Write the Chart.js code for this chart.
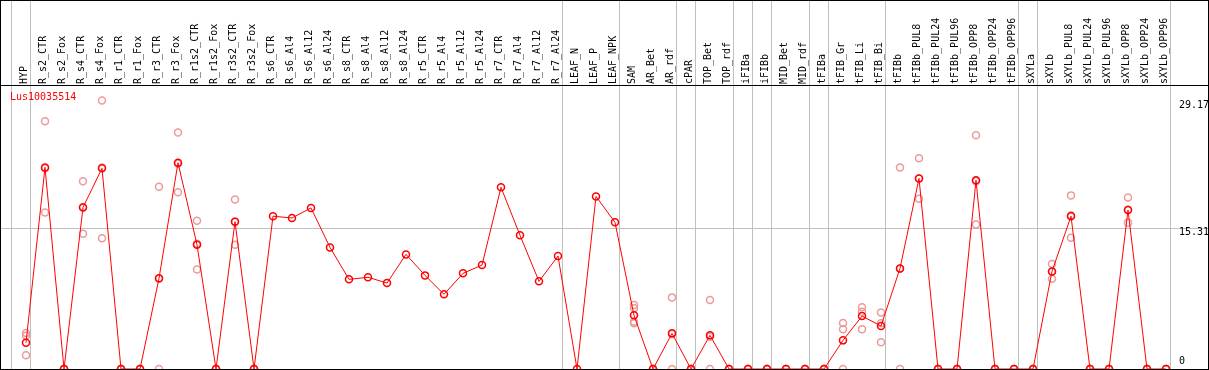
<!DOCTYPE html>
<html><head><meta charset="utf-8">
<script src="https://cdn.jsdelivr.net/npm/chart.js@4.4.1/dist/chart.umd.min.js"></script>
<style>
html,body{margin:0;padding:0;background:#fff;}
#wrap{position:absolute;left:0;top:0;width:1207px;height:368px;border:1px solid #000;background:#fff;}
</style></head><body>
<div id="wrap"><canvas id="c"></canvas></div>
<script>
const geneName = 'Lus10035514';
const categories = ['HYP','R_s2_CTR','R_s2_Fox','R_s4_CTR','R_s4_Fox','R_r1_CTR','R_r1_Fox','R_r3_CTR','R_r3_Fox','R_r1s2_CTR','R_r1s2_Fox','R_r3s2_CTR','R_r3s2_Fox','R_s6_CTR','R_s6_Al4','R_s6_Al12','R_s6_Al24','R_s8_CTR','R_s8_Al4','R_s8_Al12','R_s8_Al24','R_r5_CTR','R_r5_Al4','R_r5_Al12','R_r5_Al24','R_r7_CTR','R_r7_Al4','R_r7_Al12','R_r7_Al24','LEAF_N','LEAF_P','LEAF_NPK','SAM','AR_Bet','AR_rdf','cPAR','TOP_Bet','TOP_rdf','iFIBa','iFIBb','MID_Bet','MID_rdf','tFIBa','tFIB_Gr','tFIB_Li','tFIB_Bi','tFIBb','tFIBb_PUL8','tFIBb_PUL24','tFIBb_PUL96','tFIBb_OPP8','tFIBb_OPP24','tFIBb_OPP96','sXYLa','sXYLb','sXYLb_PUL8','sXYLb_PUL24','sXYLb_PUL96','sXYLb_OPP8','sXYLb_OPP24','sXYLb_OPP96'];
const meanValues = [2.86,21.9,0,17.55,21.8,0,0,9.85,22.4,13.5,0,16.0,0,16.6,16.4,17.5,13.2,9.74,9.96,9.34,12.45,10.17,8.11,10.39,11.29,19.73,14.52,9.52,12.27,0,18.75,15.93,5.83,0,3.87,0,3.66,0,0,0,0,0,0,3.11,5.75,4.67,10.93,20.7,0,0,20.5,0,0,0,10.6,16.6,0,0,17.27,0,0];
const replicateValues = [
  [3.9,3.6,1.5],[26.9,21.8,17.0],[0,0,0],[20.4,17.6,14.7],[29.17,21.9,14.2],[0,0,0],[0,0,0],[19.8,9.8,0],[25.7,22.3,19.2],[16.1,13.6,10.8],[0,0,0],[18.4,16.0,13.5],[0,0,0],
  [],[],[],[],[],[],[],[],[],[],[],[],[],[],[],[],
  [],[],[],
  [6.95,6.59,5.14,4.96],[0,0,0],[7.78,3.8,0],[0,0,0],[7.49,3.5,0],[0,0,0],[0,0,0],[0,0,0],[0,0,0],[0,0,0],[0,0,0],
  [4.99,4.31,0],[6.7,6.22,4.31],[6.15,4.96,2.9],
  [21.9,10.9,0],[22.9,20.7,18.5],[0,0,0],[0,0,0],[25.4,20.4,15.7],[0,0,0],[0,0,0],
  [0,0,0],[11.4,10.6,9.8],[18.86,16.7,14.26],[0,0,0],[0,0,0],[18.64,17.3,15.9],[0,0,0],[0,0,0]
];
const groupEnds = [-1,0,28,31,34,35,37,38,39,41,42,45,52,53,60];
const yTickValues = [0,15.31,29.17];
const yTickLabels = ['0','15.31','29.17'];

const meanPoints = meanValues.map((v,i)=>({x:i,y:v}));
const repPoints = [];
replicateValues.forEach((arr,i)=>arr.forEach(v=>repPoints.push({x:i,y:v})));

const X_MIN = -25/19, X_MAX = (1207-25)/19, Y_MAX = 30.85;
const FONT = {family:"'DejaVu Sans Mono', monospace", size:10};
Chart.defaults.font.family = FONT.family;

new Chart(document.getElementById('c'), {
  type:'line',
  data:{datasets:[
    {label:geneName, data:meanPoints, borderColor:'#ff0000', borderWidth:1, tension:0,
     pointRadius:3.5, pointHoverRadius:3.5, pointBorderWidth:1.5, pointBorderColor:'#ff0000',
     pointBackgroundColor:'rgba(0,0,0,0)', order:0, xAxisID:'x', yAxisID:'y'},
    {type:'scatter', label:'replicates', data:repPoints, showLine:false,
     pointRadius:3.5, pointHoverRadius:3.5, pointBorderWidth:1.5, pointBorderColor:'#eb9a9a',
     pointBackgroundColor:'rgba(0,0,0,0)', order:1, xAxisID:'x', yAxisID:'y'}
  ]},
  options:{
    responsive:true, maintainAspectRatio:false, animation:false, events:[],
    layout:{padding:0, autoPadding:false},
    plugins:{
      tooltip:{enabled:false},
      legend:{position:'chartArea', align:'start',
        labels:{font:FONT, color:'#ff0000', boxWidth:0, boxHeight:184, padding:4,
          generateLabels:()=>[{text:geneName, fillStyle:'rgba(0,0,0,0)', strokeStyle:'rgba(0,0,0,0)', lineWidth:0, fontColor:'#ff0000', hidden:false, datasetIndex:0}]}}
    },
    scales:{
      x:{type:'linear', position:'top', weight:1, bounds:'data', min:X_MIN, max:X_MAX,
        afterBuildTicks:s=>{ s.ticks = categories.map((c,i)=>({value:i})); },
        afterFit:s=>{ s.height = 84; s.paddingLeft = 0; s.paddingRight = 0; },
        ticks:{autoSkip:false, minRotation:90, maxRotation:90, padding:-7, labelOffset:10.5, font:FONT, color:'#000',
          callback:v=>categories[v] ?? ''},
        grid:{display:false}, border:{display:false}},
      xg:{type:'linear', position:'top', weight:0, bounds:'data', min:X_MIN, max:X_MAX,
        afterBuildTicks:s=>{ s.ticks = groupEnds.map(g=>({value:g+0.23})); },
        afterFit:s=>{ s.height = 0; s.paddingLeft = 0; s.paddingRight = 0; },
        ticks:{display:false},
        grid:{display:true, color:'#c0c0c0', lineWidth:1, tickLength:84, drawTicks:true, drawOnChartArea:true},
        border:{display:true, color:'#000', width:1}},
      y:{type:'linear', position:'right', bounds:'data', min:0, max:Y_MAX,
        afterBuildTicks:s=>{ s.ticks = yTickValues.map(v=>({value:v})); },
        afterFit:s=>{ s.width = 0; s.paddingTop = 0; s.paddingBottom = 0; },
        ticks:{mirror:true, crossAlign:'far', padding:1, labelOffset:4.5, font:FONT, color:'#000',
          callback:v=>{ const k = yTickValues.indexOf(v); return k === 0 ? [yTickLabels[0],'',''] : yTickLabels[k]; }},
        grid:{color:c=>(c.tick && c.tick.value === 15.31) ? '#c0c0c0' : 'rgba(0,0,0,0)', drawTicks:false},
        border:{display:false}}
    }
  }
});
</script>
</body></html>
